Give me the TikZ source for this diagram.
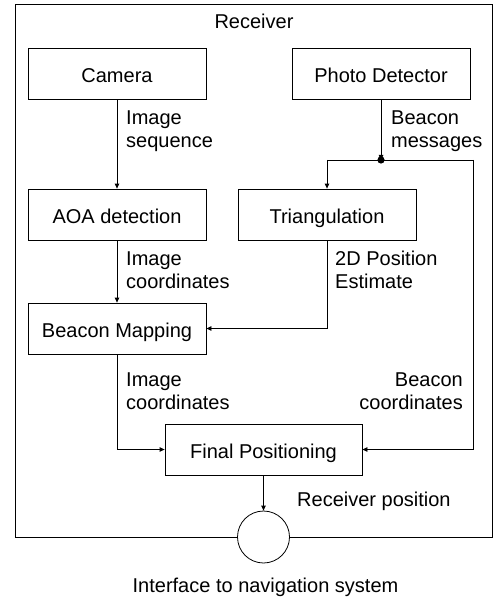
\documentclass[tikz,border=0pt]{standalone}
\usepackage{fontspec}
\setmainfont{Liberation Sans}
\usetikzlibrary{arrows.meta}
\begin{document}
\begin{tikzpicture}[x=1pt,y=-1pt,
  every node/.style={font=\fontsize{20}{23}\selectfont},
  blk/.style={draw,line width=0.8pt,minimum width=178pt,minimum height=51pt,inner sep=0pt,text height=17pt,text depth=0pt},
  lbl/.style={anchor=base west,align=left,inner sep=0pt},
  lblr/.style={anchor=base east,align=right,inner sep=0pt},
  conn/.style={line width=0.8pt,-{Triangle[length=5pt,width=4.5pt]}},
  plain/.style={line width=0.8pt}]
\useasboundingbox (0,0) rectangle (493,604);
\node[draw,line width=0.8pt,minimum width=476.5pt,minimum height=533pt,inner sep=0pt,anchor=north west] (outer) at (15,4) {};
\node[anchor=base,inner sep=0pt] (rtitle) at (254,29) {Receiver};
\node[blk] (camera) at (117,74) {Camera};
\node[blk] (photo) at (381,74) {Photo Detector};
\node[blk] (aoa) at (117,214.5) {AOA detection};
\node[blk] (tri) at (327,214.5) {Triangulation};
\node[blk] (map) at (117,328.5) {Beacon Mapping};
\node[blk,minimum width=197pt] (final) at (263.5,449.5) {Final Positioning};
\node[draw,circle,fill=white,line width=0.8pt,minimum size=52pt,inner sep=0pt] (iface) at (263.5,537) {};
\coordinate (dot) at (381,160);
\coordinate (jl) at (327,160);
\coordinate (jr) at (473,160);
\fill (dot) circle (3.6pt);
\draw[conn] (camera.south) -- (aoa.north);
\draw[conn] (photo.south) -- (dot);
\draw[plain] (jl) -- (jr);
\draw[conn] (jl) -- (tri.north);
\draw[conn] (jr) |- (final.east);
\draw[conn] (aoa.south) -- (map.north);
\draw[conn] (tri.south) |- (map.east);
\draw[conn] (map.south) |- (final.west);
\draw[conn] (final.south) -- (iface.north);
\node[lbl] (l1) at (126,148) {Image\\sequence};
\node[lbl] (l2) at (391,148) {Beacon\\messages};
\node[lbl] (l3) at (126,288) {Image\\coordinates};
\node[lbl] (l4) at (335,288) {2D Position\\Estimate};
\node[lbl] (l5) at (126,409) {Image\\coordinates};
\node[lblr] (l6) at (463,409) {Beacon\\coordinates};
\node[lbl] (l7) at (297,506) {Receiver position};
\node[anchor=base,inner sep=0pt] (l8) at (265.5,592.5) {Interface to navigation system};
\end{tikzpicture}
\end{document}
